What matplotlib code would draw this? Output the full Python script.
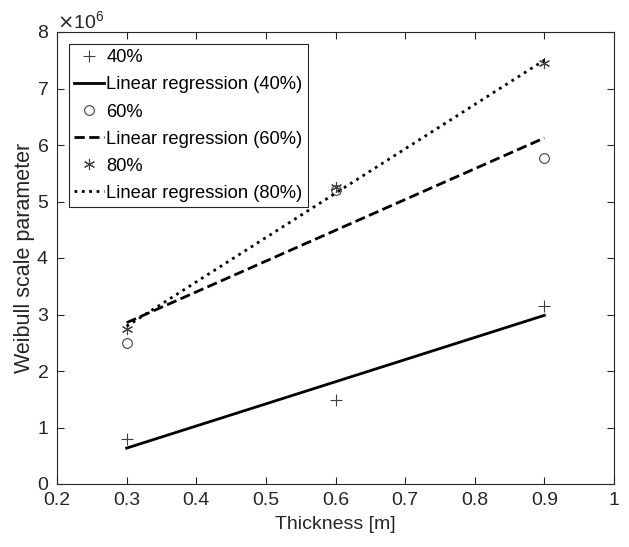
import numpy as np
import matplotlib
matplotlib.use("Agg")
import matplotlib.pyplot as plt

plt.rcParams["font.family"] = ["Liberation Sans", "DejaVu Sans"]

thickness = [0.3, 0.6, 0.9]
scale_40 = [0.80e6, 1.48e6, 3.15e6]
scale_60 = [2.50e6, 5.20e6, 5.77e6]
scale_80 = [2.74e6, 5.25e6, 7.45e6]
x_ticks = [0.2, 0.3, 0.4, 0.5, 0.6, 0.7, 0.8, 0.9, 1.0]
x_tick_labels = ["0.2", "0.3", "0.4", "0.5", "0.6", "0.7", "0.8", "0.9", "1"]
y_ticks = [0, 1e6, 2e6, 3e6, 4e6, 5e6, 6e6, 7e6, 8e6]

text_col = "#262626"
mark_col = "#404040"

fig = plt.figure(figsize=(6.29, 5.47), dpi=100)
ax = fig.add_axes([57 / 629, 1 - 484 / 547, (614 - 57) / 629, (484 - 32) / 547])

x = np.array(thickness)
asterisk = (6, 2, 0)

series = [
    ("40%", scale_40, "+", "-"),
    ("60%", scale_60, "o", "--"),
    ("80%", scale_80, asterisk, ":"),
]
for label, vals, marker, ls in series:
    y = np.array(vals)
    ax.plot(x, y, linestyle="none", marker=marker, markersize=8 if marker != "o" else 7,
            markerfacecolor="none", markeredgecolor=mark_col, markeredgewidth=0.8, label=label)
    # least-squares line through the three points
    coef = np.polyfit(x, y, 1)
    ax.plot(x, np.polyval(coef, x), color="black", linestyle=ls, linewidth=2.0,
            label=f"Linear regression ({label})")

ax.set_xlim(0.2, 1.0)
ax.set_ylim(0, 8e6)
ax.set_xticks(x_ticks)
ax.set_xticklabels(x_tick_labels)
ax.set_yticks(y_ticks)
ax.ticklabel_format(axis="y", style="sci", scilimits=(6, 6), useMathText=True)
ax.yaxis.get_offset_text().set_fontsize(14)
ax.yaxis.get_offset_text().set_color(text_col)

ax.tick_params(direction="in", top=True, right=True, length=5, width=0.8,
               labelsize=14, colors=text_col, labelcolor=text_col, pad=6)
for sp in ax.spines.values():
    sp.set_color(text_col)
    sp.set_linewidth(0.8)

ax.set_xlabel("Thickness [m]", fontsize=14, color=text_col, labelpad=5)
ax.set_ylabel("Weibull scale parameter", fontsize=15.5, color=text_col, labelpad=1)

leg = ax.legend(loc="upper left", fontsize=13.2, frameon=True, fancybox=False,
                handlelength=1.6, handletextpad=0.15, borderpad=0.3, labelspacing=0.55,
                borderaxespad=0.65)
leg.get_frame().set_edgecolor(text_col)
leg.get_frame().set_linewidth(0.8)
leg.get_frame().set_alpha(1)

fig.savefig("out.png", dpi=100)
